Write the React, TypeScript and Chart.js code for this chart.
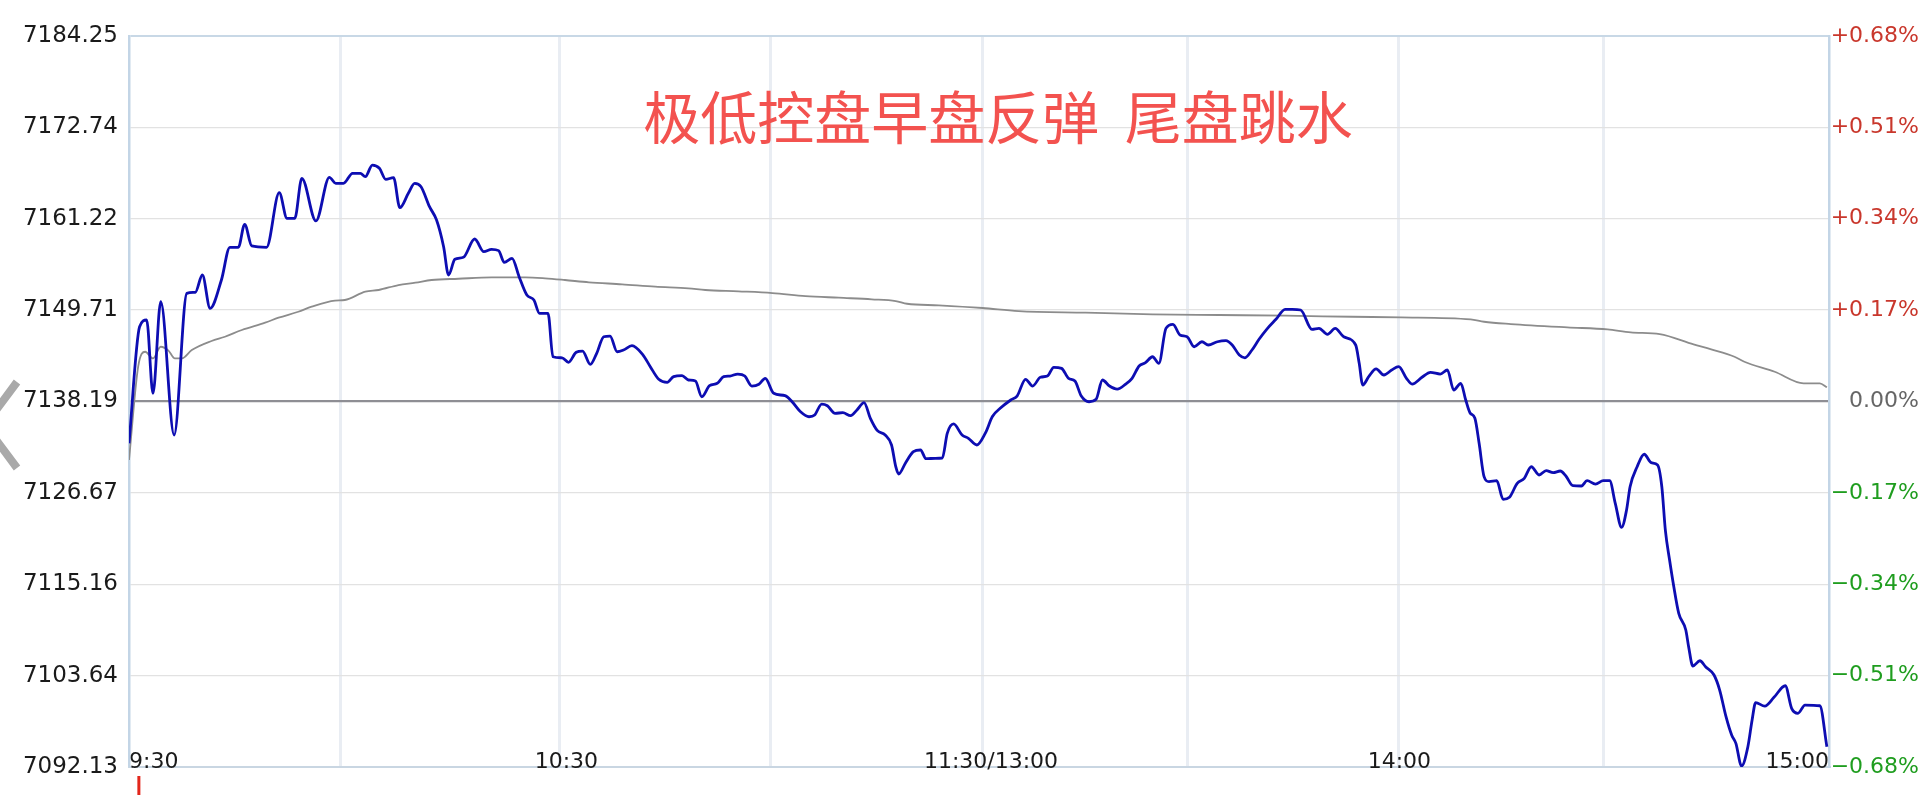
import { useEffect, useRef } from 'react';
import { Chart, registerables } from 'chart.js';

Chart.register(...registerables);

// minute index since 9:30 (11:30 and 13:00 share index 121) and index price
const priceMinutes = [
  0, 1.5, 2.5, 3.4, 4.5, 6.4, 8.2, 9.4, 10.4, 11.5, 13.1, 14.3, 15.5, 16.4, 17.4, 19.5,
  21.3, 22.4, 23.5, 24.5, 26.5, 28.4, 29.3, 30.4, 31.7, 32.8, 33.5, 34.5, 35.5, 36.4, 37.5,
  38.4, 39.6, 40.5, 41.4, 42.6, 43.6, 44.6, 45.3, 46.2, 47.4, 49.0, 50.3, 51.4, 52.4, 53.2,
  54.3, 55.3, 56.4, 57.4, 58.2, 59.4, 60.1, 61.4, 62.3, 63.4, 64.3, 65.4, 66.3, 67.3, 68.2,
  69.2, 70.1, 71.3, 72.8, 73.9, 75.1, 76.3, 77.2, 78.4, 79.3, 80.3, 81.2, 82.3, 83.4, 84.3,
  85.2, 86.3, 87.3, 88.3, 89.3, 90.2, 91.4, 93.0, 94.0, 95.2, 96.4, 97.2, 98.2, 99.0, 100.1,
  101.2, 102.3, 103.2, 104.2, 105.1, 106.1, 107.2, 108.1, 108.7, 109.1, 110.1, 111.2, 112.2,
  113.0, 114.3, 115.3, 116.0, 116.9, 118.1, 119.0, 120.2, 121.4, 122.4, 123.5, 125.0, 125.9,
  127.1, 128.1, 129.2, 130.2, 131.1, 132.2, 133.2, 134.1, 135.0, 136.1, 137.1, 138.0, 139.0,
  140.1, 141.3, 142.2, 143.2, 144.1, 145.1, 146.0, 147.0, 148.0, 149.0, 150.0, 151.0, 152.1,
  153.0, 154.3, 155.5, 156.4, 157.4, 158.2, 159.2, 160.2, 161.4, 162.6, 163.9, 164.9, 166.1,
  167.7, 168.7, 169.9, 171.0, 172.2, 173.9, 174.4, 174.9, 175.8, 176.8, 177.9, 179.0, 180.0,
  181.1, 181.9, 183.3, 184.5, 185.9, 186.9, 187.8, 188.8, 189.5, 190.1, 190.8, 191.4, 192.1,
  192.8, 193.9, 194.8, 195.7, 196.8, 197.8, 198.8, 199.9, 200.9, 201.9, 202.9, 203.7, 204.7,
  205.9, 206.7, 207.9, 209.0, 209.9, 210.7, 211.6, 212.3, 212.8, 213.8, 214.8, 215.8, 216.7,
  217.3, 217.8, 218.4, 219.0, 219.7, 220.7, 221.1, 221.7, 222.7, 223.5, 224.7, 225.5, 226.4,
  227.2, 227.8, 228.6, 229.5, 230.1, 230.6, 231.9, 233.2, 234.8, 235.7, 236.6, 237.6, 239.7,
  240.7,
];
const priceValues = [
  7132.92, 7147.6, 7148.46, 7139.22, 7150.77, 7133.97, 7151.82, 7151.95, 7154.13, 7149.93,
  7153.5, 7157.62, 7157.62, 7160.52, 7157.79, 7157.62, 7164.5, 7161.27, 7161.27, 7166.31,
  7160.94, 7166.44, 7165.69, 7165.69, 7166.95, 7166.95, 7166.52, 7167.99, 7167.58, 7166.19,
  7166.4, 7162.61, 7164.43, 7165.69, 7165.26, 7162.74, 7161.06, 7157.7, 7154.13, 7156.11,
  7156.36, 7158.67, 7157.07, 7157.37, 7157.2, 7155.73, 7156.23, 7153.92, 7151.61, 7150.98,
  7149.3, 7149.3, 7143.83, 7143.7, 7143.13, 7144.39, 7144.55, 7142.87, 7144.26, 7146.35,
  7146.44, 7144.46, 7144.68, 7145.22, 7144.13, 7142.58, 7140.99, 7140.61, 7141.32, 7141.44,
  7140.9, 7140.77, 7138.79, 7140.18, 7140.48, 7141.32, 7141.4, 7141.65, 7141.4, 7140.14,
  7140.36, 7141.11, 7139.22, 7138.92, 7138.16, 7136.9, 7136.27, 7136.49, 7137.87, 7137.66,
  7136.7, 7136.78, 7136.4, 7137.12, 7138.04, 7136.07, 7134.51, 7133.97, 7132.71, 7129.98,
  7129.05, 7130.48, 7131.86, 7132.08, 7130.98, 7131.03, 7131.07, 7134.18, 7135.36, 7133.97,
  7133.55, 7132.71, 7134.2, 7136.3, 7137.33, 7138.38, 7138.88, 7140.99, 7140.14, 7141.24,
  7141.4, 7142.5, 7142.37, 7141.11, 7140.77, 7138.88, 7138.16, 7138.46, 7140.9, 7140.14,
  7139.76, 7140.39, 7141.11, 7142.66, 7143.08, 7143.83, 7143.0, 7147.41, 7147.92, 7146.57,
  7146.35, 7145.09, 7145.72, 7145.31, 7145.72, 7145.85, 7145.31, 7144.05, 7143.7, 7144.68,
  7146.03, 7147.41, 7148.55, 7149.81, 7149.81, 7149.72, 7147.29, 7147.41, 7146.66, 7147.41,
  7146.35, 7145.31, 7143.0, 7140.27, 7141.4, 7142.29, 7141.53, 7142.16, 7142.58, 7141.11,
  7140.39, 7141.24, 7141.87, 7141.65, 7142.16, 7139.64, 7140.48, 7138.38, 7136.78, 7136.07,
  7132.92, 7128.72, 7128.09, 7128.21, 7125.86, 7126.12, 7127.88, 7128.51, 7129.97, 7128.93,
  7129.48, 7129.22, 7129.43, 7128.8, 7127.58, 7127.54, 7128.21, 7127.79, 7128.21, 7128.21,
  7125.36, 7122.33, 7124.52, 7127.45, 7129.97, 7131.54, 7130.48, 7130.19, 7127.45, 7121.99,
  7118.21, 7114.85, 7111.5, 7109.39, 7107.29, 7104.86, 7105.52, 7104.77, 7103.72, 7101.83,
  7098.47, 7096.16, 7095.11, 7092.25, 7094.69, 7098.06, 7100.24, 7099.81, 7100.91, 7102.37,
  7099.52, 7098.9, 7099.94, 7099.85, 7094.69,
];

// average price line
const avgMinutes = [
  0, 1.3, 2.3, 3.4, 4.5, 5.6, 6.5, 7.5, 8.9, 11.7, 13.6, 16.0, 19.3, 21.2, 24.0, 25.9, 29.2,
  30.6, 33.5, 35.4, 38.2, 40.6, 42.9, 46.7, 51.4, 56.2, 59.0, 61.8, 65.2, 69.9, 74.6, 79.3,
  81.7, 86.4, 91.2, 95.9, 100.6, 105.3, 108.7, 110.3, 114.8, 121.0, 126.1, 135.6, 145.1,
  154.5, 164.0, 173.4, 180.3, 190.2, 192.1, 195.9, 203.9, 209.6, 212.9, 217.0, 221.8, 224.3,
  227.6, 229.0, 233.3, 237.4, 239.7, 240.7,
];
const avgValues = [
  7130.82, 7142.58, 7144.46, 7143.62, 7145.09, 7144.6, 7143.62, 7143.62, 7144.67, 7145.81,
  7146.35, 7147.2, 7148.12, 7148.75, 7149.5, 7150.14, 7150.9, 7150.98, 7152.03, 7152.24,
  7152.87, 7153.16, 7153.5, 7153.66, 7153.83, 7153.83, 7153.71, 7153.5, 7153.21, 7152.96,
  7152.66, 7152.45, 7152.24, 7152.07, 7151.86, 7151.48, 7151.27, 7151.07, 7150.85, 7150.51,
  7150.31, 7149.97, 7149.59, 7149.38, 7149.18, 7149.09, 7149.0, 7148.87, 7148.79, 7148.54,
  7148.24, 7147.95, 7147.53, 7147.28, 7146.9, 7146.69, 7145.39, 7144.76, 7143.83, 7143.2,
  7141.94, 7140.48, 7140.48, 7139.98,
];

const baseValue = 7138.19;
const priceTicks = [7092.13, 7103.64, 7115.16, 7126.67, 7138.19, 7149.71, 7161.22, 7172.74, 7184.25];
const pctLabels = ['−0.68%', '−0.51%', '−0.34%', '−0.17%', '0.00%', '+0.17%', '+0.34%', '+0.51%', '+0.68%'];
const gridMinutes = [0, 30, 61, 91, 121, 150, 180, 209, 241];
const timeLabelMinutes = [0, 62, 122.2, 180.1, 241];
const timeLabels = ['9:30', '10:30', '11:30/13:00', '14:00', '15:00'];
const firstVolumeMinute = 1.4;
const chartTitle = '极低控盘早盘反弹  尾盘跳水';

const xTickValues = Array.from(new Set([...gridMinutes, ...timeLabelMinutes])).sort((a, b) => a - b);

const volumeMark = {
  id: 'volumeMark',
  afterDraw(chart: any) {
    const { ctx, chartArea, scales } = chart;
    const x = scales.x.getPixelForValue(firstVolumeMinute);
    ctx.save();
    ctx.fillStyle = '#e3261b';
    ctx.fillRect(x - 1.5, chartArea.bottom + 9, 3, chart.height - chartArea.bottom - 9);
    ctx.restore();
  },
};

export default function App() {
  const canvasRef = useRef<HTMLCanvasElement>(null);

  useEffect(() => {
    if (!canvasRef.current) return;
    const ctx = canvasRef.current.getContext('2d');
    if (!ctx) return;

    const chart = new Chart(ctx, {
      type: 'line',
      data: {
        datasets: [
          {
            label: 'price',
            data: priceMinutes.map((m, i) => ({ x: m, y: priceValues[i] })),
            borderColor: '#0d0db2',
            borderWidth: 2.8,
            pointRadius: 0,
            cubicInterpolationMode: 'monotone',
            borderJoinStyle: 'round',
            yAxisID: 'y',
          },
          {
            label: 'average',
            data: avgMinutes.map((m, i) => ({ x: m, y: avgValues[i] })),
            borderColor: '#8c8c8c',
            borderWidth: 1.8,
            pointRadius: 0,
            cubicInterpolationMode: 'monotone',
            yAxisID: 'y',
          },
        ],
      },
      plugins: [volumeMark],
      options: {
        responsive: true,
        maintainAspectRatio: false,
        animation: false,
        layout: { padding: { top: 36, bottom: 28, left: 0, right: 10 } },
        plugins: {
          legend: { display: false },
          tooltip: { enabled: false },
        },
        scales: {
          x: {
            type: 'linear',
            min: 0,
            max: 241,
            afterBuildTicks: (scale: any) => {
              scale.ticks = xTickValues.map((v) => ({ value: v }));
            },
            afterFit: (scale: any) => {
              scale.height = 0;
            },
            grid: {
              color: (c: any) => {
                const v = c.tick ? c.tick.value : -1;
                if (!gridMinutes.includes(v)) return 'rgba(0,0,0,0)';
                if (v === gridMinutes[0] || v === gridMinutes[gridMinutes.length - 1]) return 'rgba(0,0,0,0)';
                return '#e9edf3';
              },
              lineWidth: 3,
              drawTicks: false,
            },
            border: { color: '#c9d6e2', width: 2 },
            ticks: {
              autoSkip: false,
              maxRotation: 0,
              mirror: true,
              padding: -8,
              align: 'inner',
              color: '#1a1a1a',
              font: { family: 'DejaVu Sans', size: 22 },
              callback: (value: any) => {
                const k = timeLabelMinutes.indexOf(Number(value));
                return k >= 0 ? timeLabels[k] : '';
              },
            },
          },
          y: {
            type: 'linear',
            position: 'left',
            min: priceTicks[0],
            max: priceTicks[priceTicks.length - 1],
            afterBuildTicks: (scale: any) => {
              scale.ticks = priceTicks.map((v) => ({ value: v }));
            },
            afterFit: (scale: any) => {
              scale.width = 129;
            },
            grid: {
              color: (c: any) => {
                if (c.tick && c.tick.value === baseValue) return '#8e8e94';
                if (c.index === priceTicks.length - 1) return '#c8d8e6';
                if (c.index === 0) return 'rgba(0,0,0,0)';
                return '#e2e2e2';
              },
              lineWidth: (c: any) => {
                if (c.tick && c.tick.value === baseValue) return 2.2;
                if (c.index === priceTicks.length - 1) return 2;
                return 1.3;
              },
              drawTicks: false,
            },
            border: { color: '#c3d5e6', width: 2.5 },
            ticks: {
              padding: 11,
              color: '#1a1a1a',
              font: { family: 'DejaVu Sans', size: 23 },
              callback: (value: any) => Number(value).toFixed(2),
            },
          },
          y2: {
            type: 'linear',
            position: 'right',
            min: priceTicks[0],
            max: priceTicks[priceTicks.length - 1],
            afterBuildTicks: (scale: any) => {
              scale.ticks = priceTicks.map((v) => ({ value: v }));
            },
            afterFit: (scale: any) => {
              scale.width = 90;
            },
            grid: { drawOnChartArea: false, drawTicks: false },
            border: { color: '#c3d5e6', width: 2.5 },
            ticks: {
              padding: 2,
              crossAlign: 'far',
              font: { family: 'DejaVu Sans', size: 22 },
              color: (c: any) => {
                const v = c.tick ? c.tick.value : baseValue;
                if (v > baseValue) return '#c9372c';
                if (v < baseValue) return '#1f9d1f';
                return '#666666';
              },
              callback: (_value: any, index: number) => pctLabels[index],
            },
          },
        },
      },
    });

    return () => {
      chart.destroy();
    };
  }, []);

  return (
    <div style={{ position: 'absolute', left: 0, top: 0, width: 1929, height: 795, background: '#ffffff', overflow: 'hidden' }}>
      <canvas ref={canvasRef}></canvas>
      <div
        style={{
          position: 'absolute',
          left: 998,
          top: 86,
          transform: 'translateX(-50%)',
          fontFamily: '"Noto Sans CJK SC", sans-serif',
          fontSize: 57,
          lineHeight: '57px',
          color: '#f3524f',
          whiteSpace: 'pre',
          pointerEvents: 'none',
        }}
      >
        {chartTitle}
      </div>
      <svg style={{ position: 'absolute', left: 0, top: 370, overflow: 'hidden' }} width={24} height={110}>
        <polyline points="17,12 -15,55 17,98" fill="none" stroke="#a9a9a9" strokeWidth={8} />
      </svg>
    </div>
  );
}
